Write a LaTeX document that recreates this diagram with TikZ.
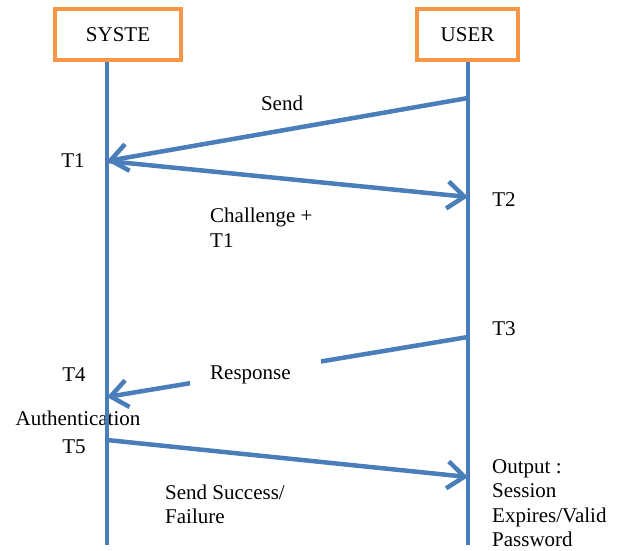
\documentclass[tikz,border=0pt]{standalone}
\usepackage{fontspec}
\setmainfont{Liberation Serif}
\usetikzlibrary{arrows.meta}
\definecolor{lifeblue}{RGB}{74,126,187}
\definecolor{boxorange}{RGB}{247,150,70}

\begin{document}
\begin{tikzpicture}[x=1pt,y=-1pt,font=\fontsize{21}{24.5}\selectfont]
   \tikzstyle{actor}=[draw=boxorange,line width=4pt,minimum height=51pt,inner sep=0pt]
   \tikzstyle{life}=[draw=lifeblue,line width=4.5pt]
   \tikzstyle{msg}=[draw=lifeblue,line width=4.5pt,-{Straight Barb[length=17pt,width=27pt]}]
   \tikzstyle{lbl}=[inner sep=0pt]
   \tikzstyle{txt}=[inner sep=0pt,anchor=west,align=left]

   \useasboundingbox (0,0) rectangle (623,550) ;

   \node (sys) [actor,minimum width=126pt] at (118,34.5) {SYSTE} ;
   \node (usr) [actor,minimum width=101pt] at (467.5,34.5) {USER} ;
   \coordinate (sysend) at (107,545) ;
   \coordinate (usrend) at (468,545) ;

   % points on the lifelines
   \coordinate (usr-send) at (468,98) ;
   \coordinate (sys-t1) at (107,161) ;
   \coordinate (usr-t2) at (468,197) ;
   \coordinate (usr-t3) at (468,337) ;
   \coordinate (sys-t4) at (107,397) ;
   \coordinate (sys-t5) at (107,440) ;
   \coordinate (usr-out) at (468,477) ;

   \node (auth) [lbl] at (78,418) {Authentication} ;

   \draw [life] (sysend |- sys.south) -- (sysend) ;
   \draw [life] (usrend |- usr.south) -- (usrend) ;

   \draw [msg] (usr-send) -- (sys-t1) ;
   \draw [msg] (sys-t1) -- (usr-t2) ;
   \draw [msg] (usr-t3) -- (sys-t4) ;
   \draw [msg] (sys-t5) -- (usr-out) ;

   \node (send) [lbl] at (282,103) {Send} ;
   \node (t1) [lbl] at (73,161) {T1} ;
   \node (t2) [lbl] at (504,200) {T2} ;
   \node (chal) [txt] at (210,227.5) {Challenge +\\T1} ;
   \node (t3) [lbl] at (504,329) {T3} ;
   \node (resp) [txt,fill=white,inner xsep=20pt,inner ysep=9pt] at (190,375) {Response\hspace{10pt}} ;
   \node (t4) [lbl] at (74,375) {T4} ;
   \node (t5) [lbl] at (74,447) {T5} ;
   \node (succ) [txt] at (165,504.5) {Send Success/\\Failure} ;
   \node (outp) [txt] at (492,503) {Output :\\Session\\Expires/Valid\\Password} ;
\end{tikzpicture}
\end{document}
